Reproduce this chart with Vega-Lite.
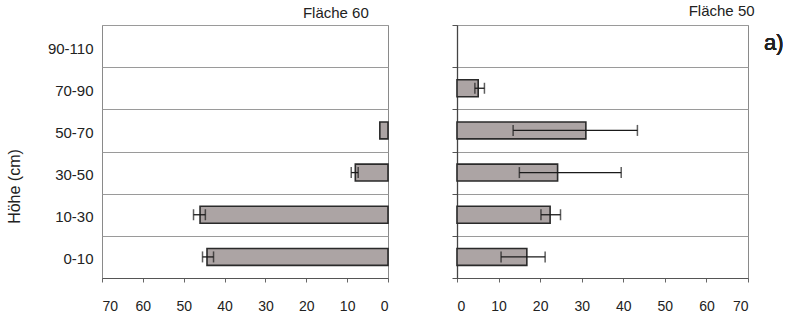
{
  "$schema": "https://vega.github.io/schema/vega-lite/v6.json",
  "background": "white",
  "padding": {"left": 5, "top": 3, "right": 5, "bottom": 5},
  "spacing": 61,
  "config": {
    "font": "Liberation Sans",
    "view": {"stroke": "#8a8a8a", "strokeWidth": 1},
    "axis": {"labelFont": "Liberation Sans", "titleFont": "Liberation Sans", "labelColor": "#222", "titleColor": "#222"},
    "title": {"font": "Liberation Sans", "fontWeight": "normal", "fontSize": 15, "color": "#222"}
  },
  "datasets": {
    "f60": [
      {"hoehe": "50-70", "value": 2.0, "lo": null, "hi": null},
      {"hoehe": "30-50", "value": 8.0, "lo": 7.3, "hi": 9.0},
      {"hoehe": "10-30", "value": 46.0, "lo": 44.7, "hi": 47.6},
      {"hoehe": "0-10", "value": 44.3, "lo": 42.7, "hi": 45.4}
    ],
    "f50": [
      {"hoehe": "70-90", "value": 5.1, "lo": 4.3, "hi": 6.6},
      {"hoehe": "50-70", "value": 31.0, "lo": 13.5, "hi": 43.4},
      {"hoehe": "30-50", "value": 24.2, "lo": 15.0, "hi": 39.5},
      {"hoehe": "10-30", "value": 22.4, "lo": 20.2, "hi": 24.9},
      {"hoehe": "0-10", "value": 16.8, "lo": 10.6, "hi": 21.2}
    ]
  },
  "hconcat": [
    {
      "width": 286,
      "height": 253,
      "title": {"text": "Fläche 60", "anchor": "end", "dx": -20, "offset": -3},
      "data": {"name": "f60"},
      "encoding": {
        "y": {
          "field": "hoehe", "type": "nominal",
          "scale": {"domain": ["90-110", "70-90", "50-70", "30-50", "10-30", "0-10"], "paddingInner": 0, "paddingOuter": 0},
          "axis": {
            "title": "Höhe (cm)", "titleFontSize": 16, "titleFontWeight": "normal", "titlePadding": 25,
            "titleY": 161,
            "labelFontSize": 15, "labelPadding": 9, "labelOffset": 2, "ticks": false,
            "tickBand": "extent", "grid": true, "gridColor": "#9a9a9a", "gridWidth": 1,
            "domain": false
          }
        }
      },
      "layer": [
        {
          "mark": {"type": "bar", "height": {"band": 0.4}, "color": "#aca4a4", "stroke": "#2a2a2a", "strokeWidth": 1.6},
          "encoding": {
            "x": {
              "field": "value", "type": "quantitative",
              "scale": {"domain": [0, 70], "reverse": true, "nice": false},
              "axis": {
                "title": null, "values": [0, 10, 20, 30, 40, 50, 60, 70], "labelFontSize": 14,
                "labelPadding": 17, "tickSize": 4, "tickColor": "#666", "domainColor": "#555", "grid": false
              }
            }
          }
        },
        {
          "mark": {"type": "rule", "color": "#1a1a1a", "strokeWidth": 1.3},
          "encoding": {"x": {"field": "lo", "type": "quantitative"}, "x2": {"field": "hi"}}
        },
        {
          "mark": {"type": "tick", "color": "#1a1a1a", "thickness": 1.5, "size": 11},
          "encoding": {"x": {"field": "lo", "type": "quantitative"}}
        },
        {
          "mark": {"type": "tick", "color": "#1a1a1a", "thickness": 1.5, "size": 11},
          "encoding": {"x": {"field": "hi", "type": "quantitative"}}
        },
        {
          "mark": {"type": "rule", "color": "#333", "strokeWidth": 1.3},
          "encoding": {"x": {"datum": 0}}
        }
      ]
    },
    {
      "width": 291,
      "height": 253,
      "title": {"text": "Fläche 50", "anchor": "end", "dx": -29, "offset": 6},
      "data": {"name": "f50"},
      "encoding": {
        "y": {
          "field": "hoehe", "type": "nominal",
          "scale": {"domain": ["90-110", "70-90", "50-70", "30-50", "10-30", "0-10"], "paddingInner": 0, "paddingOuter": 0},
          "axis": {
            "title": null, "labels": false, "ticks": true, "tickSize": 5, "tickColor": "#555",
            "tickBand": "extent", "grid": true, "gridColor": "#9a9a9a", "gridWidth": 1,
            "domain": true, "domainColor": "#444", "domainWidth": 1.3
          }
        }
      },
      "layer": [
        {
          "mark": {"type": "bar", "height": {"band": 0.4}, "color": "#aca4a4", "stroke": "#2a2a2a", "strokeWidth": 1.6},
          "encoding": {
            "x": {
              "field": "value", "type": "quantitative",
              "scale": {"domain": [0, 70], "nice": false},
              "axis": {
                "title": null, "values": [0, 10, 20, 30, 40, 50, 60, 70], "labelFontSize": 14,
                "labelPadding": 17, "tickSize": 4, "tickColor": "#666", "domainColor": "#555", "grid": false
              }
            }
          }
        },
        {
          "mark": {"type": "rule", "color": "#1a1a1a", "strokeWidth": 1.3},
          "encoding": {"x": {"field": "lo", "type": "quantitative"}, "x2": {"field": "hi"}}
        },
        {
          "mark": {"type": "tick", "color": "#1a1a1a", "thickness": 1.5, "size": 11},
          "encoding": {"x": {"field": "lo", "type": "quantitative"}}
        },
        {
          "mark": {"type": "tick", "color": "#1a1a1a", "thickness": 1.5, "size": 11},
          "encoding": {"x": {"field": "hi", "type": "quantitative"}}
        },
        {
          "mark": {"type": "text", "text": "a)", "font": "Liberation Sans", "fontWeight": "normal", "fontSize": 22, "align": "left", "baseline": "middle", "dx": 16, "dy": -3, "color": "#222"},
          "encoding": {"x": {"datum": 70}, "y": {"datum": "90-110"}}
        }
      ]
    }
  ]
}
